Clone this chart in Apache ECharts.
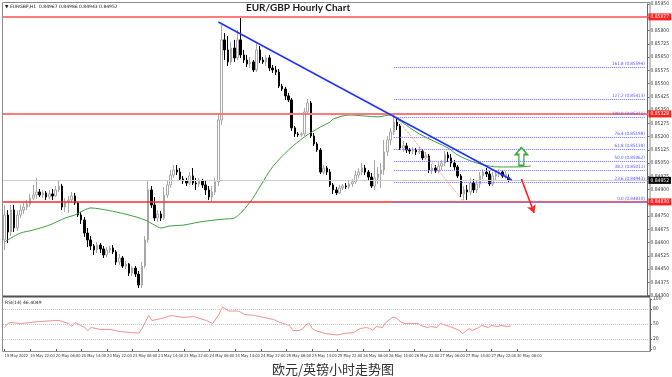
<!DOCTYPE html>
<html lang="en">
<head>
    <meta charset="UTF-8">
    <title>EUR/GBP Hourly Chart</title>
    <script src="https://cdn.jsdelivr.net/npm/echarts@6.0.0/dist/echarts.min.js"></script>
    <style>
        html, body { margin: 0; padding: 0; background: #fff; }
        #chart { width: 672px; height: 377px; }
    </style>
</head>
<body>
    <div id="chart"></div>
    <script>
        // hourly bars, 19 May 14:00 -> 30 May 04:00 (broker time)
        var opens = [
            0.84615,0.84756,0.84660,0.84784,0.84683,0.84756,0.84784,0.84801,0.84818,0.84852,
            0.84869,0.84886,0.84869,0.84881,0.84858,0.84875,0.84864,0.84898,0.84920,0.84801,
            0.84830,0.84841,0.84864,0.84824,0.84756,0.84728,0.84654,0.84615,0.84581,0.84558,
            0.84586,0.84564,0.84530,0.84558,0.84569,0.84547,0.84490,0.84513,0.84467,0.84479,
            0.84428,0.84456,0.84422,0.84360,0.84467,0.84615,0.84898,0.84813,0.84739,0.84762,
            0.84739,0.84869,0.84926,0.84982,0.85011,0.84999,0.84960,0.84949,0.84937,0.84977,
            0.84937,0.84932,0.84949,0.84926,0.84898,0.84858,0.84886,0.84943,0.85294,0.85747,
            0.85690,0.85622,0.85701,0.85645,0.85747,0.85662,0.85633,0.85611,0.85622,0.85577,
            0.85690,0.85633,0.85622,0.85645,0.85588,0.85577,0.85565,0.85486,0.85469,0.85430,
            0.85407,0.85249,0.85215,0.85209,0.85215,0.85339,0.85390,0.85203,0.85158,0.85124,
            0.84999,0.85022,0.84999,0.84926,0.84898,0.84881,0.84909,0.84920,0.84915,0.84932,
            0.84943,0.84982,0.84999,0.85022,0.84999,0.84971,0.84920,0.84966,0.84988,0.85011,
            0.85113,0.85181,0.85226,0.85282,0.85260,0.85135,0.85147,0.85124,0.85118,0.85124,
            0.85113,0.85118,0.85079,0.85090,0.85011,0.85022,0.85005,0.85033,0.85050,0.85096,
            0.85079,0.85050,0.85028,0.84977,0.84875,0.84898,0.84886,0.84937,0.84898,0.84932,
            0.84977,0.84999,0.84988,0.84932,0.84977,0.84988,0.84999,0.84977,0.84967
        ];
        var closes = [
            0.84756,0.84660,0.84784,0.84683,0.84756,0.84784,0.84801,0.84818,0.84852,0.84869,
            0.84886,0.84869,0.84881,0.84858,0.84875,0.84864,0.84898,0.84920,0.84801,0.84830,
            0.84841,0.84864,0.84824,0.84756,0.84728,0.84654,0.84615,0.84581,0.84558,0.84586,
            0.84564,0.84530,0.84558,0.84569,0.84547,0.84490,0.84513,0.84467,0.84479,0.84428,
            0.84456,0.84422,0.84360,0.84467,0.84615,0.84898,0.84813,0.84739,0.84762,0.84739,
            0.84869,0.84926,0.84982,0.85011,0.84999,0.84960,0.84949,0.84937,0.84977,0.84937,
            0.84932,0.84949,0.84926,0.84898,0.84858,0.84886,0.84943,0.85294,0.85747,0.85690,
            0.85622,0.85701,0.85645,0.85747,0.85662,0.85633,0.85611,0.85622,0.85577,0.85690,
            0.85633,0.85622,0.85645,0.85588,0.85577,0.85565,0.85486,0.85469,0.85430,0.85407,
            0.85249,0.85215,0.85209,0.85215,0.85339,0.85390,0.85203,0.85158,0.85124,0.84999,
            0.85022,0.84999,0.84926,0.84898,0.84881,0.84909,0.84920,0.84915,0.84932,0.84943,
            0.84982,0.84999,0.85022,0.84999,0.84971,0.84920,0.84966,0.84988,0.85011,0.85113,
            0.85181,0.85226,0.85282,0.85260,0.85135,0.85147,0.85124,0.85118,0.85124,0.85113,
            0.85118,0.85079,0.85090,0.85011,0.85022,0.85005,0.85033,0.85050,0.85096,0.85079,
            0.85050,0.85028,0.84977,0.84875,0.84898,0.84886,0.84937,0.84898,0.84932,0.84977,
            0.84999,0.84988,0.84932,0.84977,0.84988,0.84999,0.84977,0.84988,0.84952
        ];
        var highs = [
            0.84813,0.84784,0.84813,0.84813,0.84784,0.84813,0.84824,0.84841,0.84875,0.84926,
            0.84966,0.84903,0.84898,0.84892,0.84898,0.84903,0.84920,0.84949,0.84932,0.84852,
            0.84864,0.84886,0.84881,0.84830,0.84773,0.84745,0.84683,0.84637,0.84592,0.84603,
            0.84598,0.84581,0.84575,0.84581,0.84586,0.84558,0.84535,0.84524,0.84496,0.84484,
            0.84467,0.84467,0.84439,0.84490,0.84637,0.84954,0.84920,0.84858,0.84784,0.84779,
            0.84915,0.84954,0.85011,0.85039,0.85039,0.85022,0.84977,0.84966,0.84999,0.85022,
            0.84966,0.84966,0.84960,0.84954,0.84920,0.84920,0.84966,0.85322,0.85831,0.85786,
            0.85769,0.85735,0.85747,0.85803,0.85871,0.85690,0.85662,0.85650,0.85633,0.85730,
            0.85713,0.85650,0.85662,0.85662,0.85605,0.85599,0.85582,0.85498,0.85481,0.85447,
            0.85418,0.85260,0.85226,0.85226,0.85362,0.85413,0.85401,0.85220,0.85169,0.85135,
            0.85039,0.85033,0.85016,0.84937,0.84915,0.84926,0.84932,0.84937,0.84949,0.84960,
            0.85005,0.85022,0.85050,0.85039,0.85011,0.84994,0.85067,0.85028,0.85050,0.85181,
            0.85203,0.85249,0.85322,0.85311,0.85271,0.85175,0.85164,0.85135,0.85141,0.85135,
            0.85141,0.85130,0.85113,0.85101,0.85045,0.85039,0.85056,0.85067,0.85118,0.85113,
            0.85101,0.85067,0.85039,0.84988,0.84920,0.84926,0.84966,0.84960,0.84954,0.84999,
            0.85016,0.85022,0.85005,0.84999,0.85011,0.85016,0.85011,0.85005,0.84986
        ];
        var lows = [
            0.84558,0.84598,0.84637,0.84660,0.84666,0.84739,0.84762,0.84784,0.84801,0.84841,
            0.84847,0.84858,0.84852,0.84841,0.84847,0.84841,0.84858,0.84886,0.84784,0.84773,
            0.84767,0.84824,0.84813,0.84745,0.84705,0.84632,0.84575,0.84558,0.84530,0.84541,
            0.84541,0.84513,0.84518,0.84541,0.84535,0.84473,0.84473,0.84456,0.84450,0.84411,
            0.84411,0.84405,0.84343,0.84343,0.84456,0.84598,0.84796,0.84722,0.84716,0.84722,
            0.84728,0.84852,0.84909,0.84966,0.84982,0.84949,0.84932,0.84920,0.84926,0.84926,
            0.84898,0.84915,0.84909,0.84869,0.84841,0.84835,0.84869,0.84920,0.85265,0.85633,
            0.85599,0.85605,0.85622,0.85633,0.85645,0.85616,0.85594,0.85588,0.85565,0.85565,
            0.85616,0.85611,0.85599,0.85571,0.85560,0.85548,0.85475,0.85458,0.85407,0.85396,
            0.85232,0.85198,0.85198,0.85198,0.85203,0.85322,0.85192,0.85147,0.85113,0.84988,
            0.84988,0.84982,0.84915,0.84875,0.84869,0.84875,0.84898,0.84903,0.84903,0.84915,
            0.84932,0.84966,0.84982,0.84982,0.84954,0.84909,0.84898,0.84932,0.84909,0.84982,
            0.85090,0.85152,0.85209,0.85237,0.85124,0.85113,0.85107,0.85101,0.85101,0.85096,
            0.85101,0.85067,0.85067,0.84994,0.84988,0.84994,0.84994,0.85011,0.85033,0.85056,
            0.85028,0.85011,0.84966,0.84858,0.84841,0.84841,0.84869,0.84881,0.84881,0.84909,
            0.84960,0.84971,0.84920,0.84920,0.84954,0.84971,0.84966,0.84960,0.84943
        ];

        // green moving average (bar index / value)
        var maIdx = [0,2,5,9,14,19,22,25,27,30,35,39,44,47,49,52,56,61,66,69,72,77,80,84,89,94,99,102,103,108,113,117,121,124,130,139,142,147,152,155,161,165];
        var maVal = [0.84603,0.84626,0.84654,0.84671,0.84699,0.84739,0.84756,0.84784,0.84796,0.84790,
            0.84773,0.84756,0.84728,0.84699,0.84683,0.84694,0.84699,0.84716,0.84728,0.84733,
            0.84739,0.84830,0.84915,0.85028,0.85124,0.85198,0.85254,0.85282,0.85299,0.85322,
            0.85316,0.85311,0.85322,0.85288,0.85215,0.85135,0.85096,0.85056,0.85033,0.85028,
            0.85028,0.85033];

        // RSI(14)
        var rsiIdx = [0,1,2,5,11,16,17,20,21,22,25,26,27,30,33,36,39,42,43,44,45,46,49,52,56,59,63,65,67,68,70,73,75,78,81,84,86,89,90,92,93,94,95,96,97,100,104,106,109,111,113,114,115,116,118,119,121,122,124,125,127,129,130,132,133,135,136,139,142,143,145,146,148,149,151,152,154,155,157,158];
        var rsiVal = [43,51,53,51,55,57,57,51,45,53,43,37,43,39,39,35,33,32,42,55,67,57,61,67,63,65,57,51,70,84,76,76,69,67,63,59,53,47,37,37,40,48,52,41,37,31,28,31,33,41,43,41,37,45,43,53,63,63,53,51,51,51,47,43,45,43,51,45,37,31,41,37,43,47,43,47,45,47,45,46];
        var rsiLevels = [80, 50, 20];

        // horizontal levels, trend line, fibonacci
        var upperLevels = [0.85877, 0.85328];
        var supportLevel = 0.84830;
        var trendStart = [67, 0.85848];
        var trendEnd = [159, 0.84954];
        var fibNames = ['0.0', '23.6', '38.2', '50.0', '61.8', '76.4', '100.0', '127.2', '161.8'];
        var fibVals = [0.84830, 0.84943, 0.85011, 0.85062, 0.85130, 0.85198, 0.85311, 0.85413, 0.85594];
        var fibStart = 122;
        var fibDiag = [[122, 0.85322], [144, 0.84830]];
        var downArrow = [[162, 0.84960], [166, 0.84767]];
        var upArrow = [162, 0.85087];

        // axis tick labels
        var xLabels = ['19 May 2022', '19 May 22:00', '20 May 06:00', '20 May 14:00', '20 May 22:00',
            '23 May 06:00', '23 May 14:00', '23 May 22:00', '24 May 06:00', '24 May 14:00', '24 May 22:00',
            '25 May 06:00', '25 May 14:00', '25 May 22:00', '26 May 06:00', '26 May 14:00', '26 May 22:00',
            '27 May 06:00', '27 May 14:00', '27 May 22:00', '30 May 06:00'];
        var labelStep = 8;
        var rsiTicks = [0, 20, 50, 80, 100];

        var slots = 202; // bars + empty shift area on the right
        var cats = [];
        for (var i = 0; i < slots; i++) cats.push(String(i));

        var candles = [];
        for (var i = 0; i < opens.length; i++) {
            candles.push([opens[i], closes[i], lows[i], highs[i]]);
        }
        var maData = maIdx.map(function (d, k) { return [d, maVal[k]]; });
        var rsiData = rsiIdx.map(function (d, k) { return [d, rsiVal[k]]; });
        var lastClose = closes[closes.length - 1];

        var tinyFont = 'DejaVu Sans Condensed, DejaVu Sans';

        function showLabel(idx) {
            return idx % labelStep === 0 && idx / labelStep < xLabels.length;
        }

        // empty helper series that only carries a markLine
        function overlay(name, lineStyle, items, extra) {
            var s = {
                name: name, type: 'line', xAxisIndex: 0, yAxisIndex: 0, data: [],
                markLine: {
                    silent: true, symbol: ['none', 'none'], animation: false, precision: 6,
                    lineStyle: lineStyle, label: { show: false }, data: items
                }
            };
            if (extra) {
                for (var k in extra) s.markLine[k] = extra[k];
            }
            return s;
        }

        function tag(bg) {
            return {
                show: true, position: 'end', distance: 1,
                formatter: function (p) { return Number(p.value).toFixed(5); },
                backgroundColor: bg, color: '#fff', fontSize: 5, fontFamily: tinyFont, padding: [1, 2]
            };
        }

        var myChart = echarts.init(document.getElementById('chart'));

        var option = {
            animation: false,
            backgroundColor: '#fff',
            grid: [
                { left: 3, right: 22, top: 4, height: 291.6 },
                { left: 3, right: 22, top: 299, height: 52 }
            ],
            xAxis: [
                {
                    type: 'category', gridIndex: 0, data: cats, boundaryGap: true,
                    axisLine: { show: false }, axisTick: { show: false }, axisLabel: { show: false }, splitLine: { show: false }
                },
                {
                    type: 'category', gridIndex: 1, data: cats, boundaryGap: true,
                    axisLine: { show: false },
                    axisTick: {
                        show: true, length: 2, alignWithLabel: true, lineStyle: { color: '#555' },
                        interval: showLabel
                    },
                    axisLabel: {
                        show: true, fontSize: 4, fontFamily: tinyFont, color: '#333', align: 'left', margin: 3,
                        hideOverlap: false, showMinLabel: true,
                        interval: showLabel,
                        formatter: function (val, idx) { return xLabels[idx / labelStep] || ''; }
                    },
                    splitLine: { show: false }
                }
            ],
            yAxis: [
                {
                    type: 'value', gridIndex: 0, position: 'right', scale: true,
                    min: 0.843, max: 0.8595, interval: 0.00075,
                    axisLine: { show: true, lineStyle: { color: '#666' } },
                    axisTick: { show: true, length: 2, lineStyle: { color: '#666' } },
                    axisLabel: {
                        fontSize: 5, fontFamily: tinyFont, color: '#333', margin: 3,
                        formatter: function (v) { return v.toFixed(5); }
                    },
                    splitLine: { show: false }
                },
                {
                    type: 'value', gridIndex: 1, position: 'right', min: -4, max: 100,
                    axisLine: { show: true, lineStyle: { color: '#666' } },
                    axisTick: { show: true, length: 2, customValues: rsiTicks, lineStyle: { color: '#666' } },
                    axisLabel: { fontSize: 5, fontFamily: tinyFont, color: '#333', margin: 3, customValues: rsiTicks },
                    splitLine: { show: false }
                }
            ],
            series: [
                // current price line sits behind the candles
                overlay('last', { color: '#cfcfcf', width: 1, type: 'solid' },
                    [{ yAxis: lastClose }], { label: tag('#000') }),
                {
                    type: 'candlestick', xAxisIndex: 0, yAxisIndex: 0, data: candles,
                    barWidth: 2,
                    itemStyle: { color: '#ffffff', color0: '#000000', borderColor: '#a8a8a8', borderColor0: '#000000', borderWidth: 1 }
                },
                {
                    type: 'line', xAxisIndex: 0, yAxisIndex: 0, data: maData,
                    showSymbol: false, smooth: 0.3,
                    lineStyle: { color: '#3f9f3f', width: 1 }
                },
                overlay('resistance', { color: '#ff7a7a', width: 2, type: 'solid' },
                    upperLevels.map(function (v) { return { yAxis: v }; }), { label: tag('#ff2020') }),
                overlay('support', { color: '#ff2a2a', width: 1.5, type: 'solid' },
                    [{ yAxis: supportLevel }], { label: tag('#ff2020') }),
                overlay('fib', { color: '#7070ff', width: 1, type: 'dotted' },
                    fibVals.map(function (v) { return [{ coord: [fibStart, v] }, { coord: [slots - 1, v] }]; }),
                    {
                        label: {
                            show: true, position: 'insideEndTop', distance: 1,
                            formatter: function (p) {
                                return fibNames[p.dataIndex] + ' (' + fibVals[p.dataIndex].toFixed(5) + ')';
                            },
                            color: '#5050ff', fontSize: 4.5, fontFamily: tinyFont
                        }
                    }),
                overlay('fibDiag', { color: '#ff8080', width: 1, type: 'dotted' },
                    [[{ coord: fibDiag[0] }, { coord: fibDiag[1] }]]),
                overlay('trend', { color: '#2030ff', width: 1.5, type: 'solid' },
                    [[{ coord: trendStart }, { coord: trendEnd }]]),
                overlay('down', { color: '#ff2020', width: 1.6, type: 'solid' },
                    [[{ coord: downArrow[0] }, { coord: downArrow[1] }]],
                    { symbol: ['none', 'arrow'], symbolSize: [7, 8] }),
                {
                    name: 'up', type: 'line', xAxisIndex: 0, yAxisIndex: 0, data: [],
                    markPoint: {
                        silent: true, animation: false,
                        symbol: 'path://M6,0 L12,7 L8.5,7 L8.5,18 L3.5,18 L3.5,7 L0,7 Z',
                        symbolSize: [12, 18],
                        itemStyle: { color: 'rgba(255,255,255,0)', borderColor: '#3aa63a', borderWidth: 1.5 },
                        label: { show: false },
                        data: [{ coord: upArrow }]
                    }
                },
                {
                    type: 'line', xAxisIndex: 1, yAxisIndex: 1, data: rsiData,
                    showSymbol: false,
                    lineStyle: { color: '#f49090', width: 1 },
                    markLine: {
                        silent: true, symbol: ['none', 'none'], label: { show: false }, animation: false,
                        lineStyle: { color: '#c8c8c8', type: 'dotted', width: 1 },
                        data: rsiLevels.map(function (v) { return { yAxis: v }; })
                    }
                }
            ],
            graphic: [
                { type: 'rect', shape: { x: 2.5, y: 2.5, width: 647.5, height: 349 }, style: { fill: 'none', stroke: '#8c8c8c', lineWidth: 1 } },
                { type: 'line', shape: { x1: 3, y1: 296.5, x2: 650, y2: 296.5 }, style: { stroke: '#505050', lineWidth: 2 } },
                { type: 'text', x: 5, y: 4, style: { text: '\u25BC EURGBP,H1  0.84967 0.84986 0.84943 0.84952', font: '4.5px DejaVu Sans', fill: '#222' } },
                { type: 'text', x: 298, y: 8, style: { text: 'EUR/GBP Hourly Chart', font: 'bold 10px Lato', fill: '#1a1a1a', textAlign: 'center', textVerticalAlign: 'middle' } },
                { type: 'text', x: 5, y: 300, style: { text: 'RSI(14) 46.4049', font: '4.5px DejaVu Sans', fill: '#222' } },
                { type: 'text', x: 333, y: 369, style: { text: '欧元/英镑小时走势图', font: '13px "Noto Sans CJK SC"', fill: '#333', textAlign: 'center', textVerticalAlign: 'middle' } }
            ]
        };
        myChart.setOption(option);
    </script>
</body>
</html>
